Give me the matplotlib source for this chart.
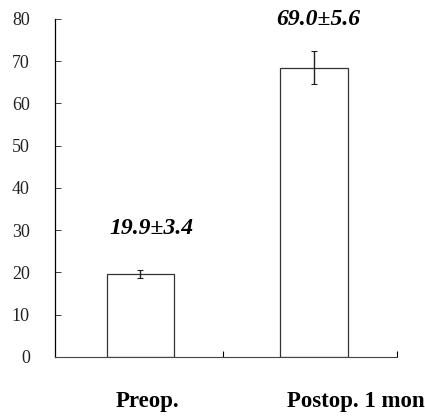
import matplotlib.pyplot as plt

# values
groups = ["Preop.", "Postop. 1 mon"]
means = [19.6, 68.4]
errs = [1.0, 3.9]
labels = ["19.9\u00b13.4", "69.0\u00b15.6"]
yticks = [0, 10, 20, 30, 40, 50, 60, 70, 80]

plt.rcParams['font.family'] = ['Liberation Serif', 'DejaVu Serif']

fig = plt.figure(figsize=(4.25, 4.18), dpi=100)
ax = fig.add_axes([0.129, 0.146, 0.805, 0.809])

x = list(range(len(groups)))
ax.bar(x, means, width=0.39, color="white", edgecolor="#333333", linewidth=0.9,
       yerr=errs, capsize=2, error_kw=dict(ecolor="#222222", elinewidth=1.0, capthick=0.8))

ax.set_xlim(-0.493, 1.479)
ax.set_ylim(0, 80)
ax.set_yticks(yticks)
ax.set_yticklabels([str(v) for v in yticks], fontsize=13)
ax.tick_params(axis="y", direction="in", length=4, width=0.6, pad=18, colors="#222222")
ax.set_xticks([0.476, 1.479])
ax.set_xticklabels(["", ""])
ax.tick_params(axis="x", direction="in", length=4, width=0.8)

for s in ["top", "right"]:
    ax.spines[s].set_visible(False)
ax.spines["left"].set_linewidth(0.9)
ax.spines["bottom"].set_linewidth(0.8)
ax.spines["bottom"].set_color("#444444")

# value annotations above bars
ax.text(0.063, 30.5, labels[0], ha="center", va="center", fontsize=17,
        fontweight="bold", fontstyle="italic")
ax.text(1.026, 79.8, labels[1], ha="center", va="center", fontsize=17,
        fontweight="bold", fontstyle="italic")

# category labels under the axis
for xi, g in zip([0.04, 1.24], groups):
    ax.annotate(g, xy=(xi, 0), xycoords=("data", "axes fraction"),
                xytext=(0, -45), textcoords="offset pixels",
                ha="center", va="center", fontsize=16.5, fontweight="bold")

fig.savefig("out.png", dpi=100)
